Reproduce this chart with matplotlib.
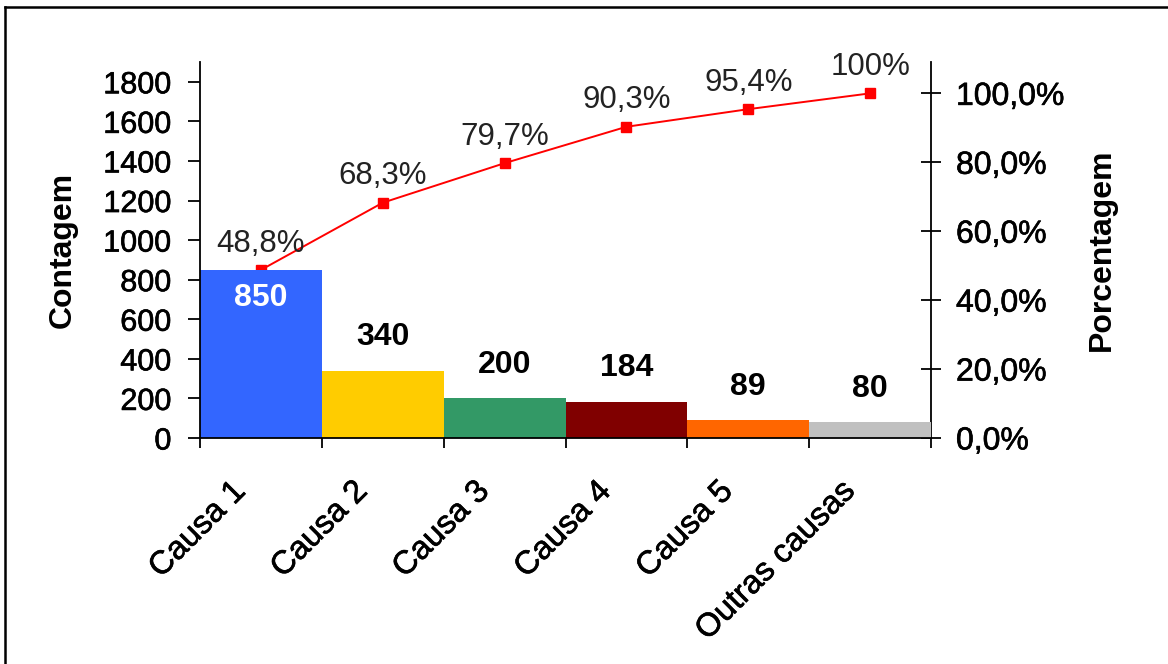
import matplotlib
matplotlib.use('Agg')
import matplotlib.pyplot as plt
import matplotlib.patheffects as pe
from matplotlib.lines import Line2D
import numpy as np

plt.rcParams['font.family'] = ['Liberation Sans', 'DejaVu Sans']

CAUSES = ['Causa 1', 'Causa 2', 'Causa 3', 'Causa 4', 'Causa 5', 'Outras causas']
COUNTS = [850, 340, 200, 184, 89, 80]
BAR_COLORS = ['#3366FF', '#FFCC00', '#339966', '#800000', '#FF6600', '#C0C0C0']
COUNT_TICKS = [0, 200, 400, 600, 800, 1000, 1200, 1400, 1600, 1800]
PERCENT_TICKS = [0, 20, 40, 60, 80, 100]

# slightly heavier strokes for the axis texts
HEAVY = [pe.withStroke(linewidth=0.45, foreground='black')]


def pct_label(v, decimals=1):
    """Brazilian style percentage: decimal comma, no decimals for 100%."""
    if round(v, decimals) >= 100:
        return '100%'
    return f'{v:.{decimals}f}'.replace('.', ',') + '%'


def make_plot(name='out'):
    counts = np.asarray(COUNTS, dtype=float)
    cumulative = np.cumsum(counts) / counts.sum() * 100
    x = np.arange(len(CAUSES))

    fig = plt.figure(figsize=(11.68, 6.64), dpi=100)
    fig.patch.set_facecolor('white')
    ax = fig.add_axes([200 / 1168, 226 / 664, 731 / 1168, 376 / 664])
    ax2 = ax.twinx()

    # bars sit above the cumulative line
    ax.set_zorder(2)
    ax.patch.set_visible(False)
    ax2.set_zorder(1)

    ax.bar(x, counts, width=1.0, color=BAR_COLORS, edgecolor='none', zorder=2)
    ax2.plot(x, cumulative, color='#FF0000', lw=1.4, marker='s', ms=7,
             mec='#FF0000', mfc='#FF0000')

    for i, c in enumerate(counts):
        if i == 0:
            ax.annotate(f'{int(c)}', (x[i], c), xytext=(0, -20),
                        textcoords='offset points', ha='center', va='center',
                        fontsize=23, fontweight='bold', color='white', zorder=3)
        else:
            ax.annotate(f'{int(c)}', (x[i], c), xytext=(0, 24),
                        textcoords='offset points', ha='center', va='center',
                        fontsize=23, fontweight='bold', color='black', zorder=3)
    for i, p in enumerate(cumulative):
        ax2.annotate(pct_label(p), (x[i], p), xytext=(0, 19),
                     textcoords='offset points', ha='center', va='center',
                     fontsize=22.5, color='#222222')

    ax.set_xlim(-0.5, len(CAUSES) - 0.5)
    ax.set_ylim(0, 1900)
    ax2.set_ylim(0, 109.1)

    ax.set_yticks(COUNT_TICKS)
    ax.set_yticklabels([str(t) for t in COUNT_TICKS], fontsize=22)
    ax2.set_yticks(PERCENT_TICKS)
    ax2.set_yticklabels([f'{t},0%' for t in PERCENT_TICKS], fontsize=23)
    for lab in ax.get_yticklabels() + ax2.get_yticklabels():
        lab.set_path_effects(HEAVY)

    # category names, rotated under each bar
    ax.set_xticks(x)
    ax.set_xticklabels([])
    for xi, cause in zip(x, CAUSES):
        ax.annotate(cause, (xi, 0), xycoords=('data', 'axes fraction'),
                    xytext=(-14.5, -35), textcoords='offset points',
                    rotation=45, rotation_mode='anchor', ha='right',
                    va='center', fontsize=23.5, path_effects=HEAVY,
                    annotation_clip=False)
    ax.set_xticks(np.arange(len(CAUSES) + 1) - 0.5, minor=True)
    ax.tick_params(axis='x', which='major', length=0)
    ax.tick_params(axis='x', which='minor', length=7, width=1.3,
                   direction='out')
    ax.tick_params(axis='y', length=8.5, width=1.3, direction='out', pad=12)
    ax2.tick_params(axis='y', length=14, width=1.3, direction='inout', pad=11)

    for a in (ax, ax2):
        a.spines['top'].set_visible(False)
        for s in ('left', 'right', 'bottom'):
            a.spines[s].set_linewidth(1.3)
    ax.spines['right'].set_visible(False)
    ax2.spines['left'].set_visible(False)
    ax2.spines['bottom'].set_visible(False)

    ax.set_ylabel('Contagem', fontsize=23, fontweight='bold', labelpad=18)
    ax2.set_ylabel('Porcentagem', fontsize=23, fontweight='bold', labelpad=16)

    # chart frame, open at the right and bottom edges
    fig.add_artist(Line2D([4.5 / 1168, 4.5 / 1168], [0, 657 / 664],
                          transform=fig.transFigure, color='black', lw=1.8))
    fig.add_artist(Line2D([4.5 / 1168, 1], [657 / 664, 657 / 664],
                          transform=fig.transFigure, color='black', lw=1.8))

    fig.savefig(name + '.png', dpi=100, facecolor='white')


if __name__ == '__main__':
    make_plot()
